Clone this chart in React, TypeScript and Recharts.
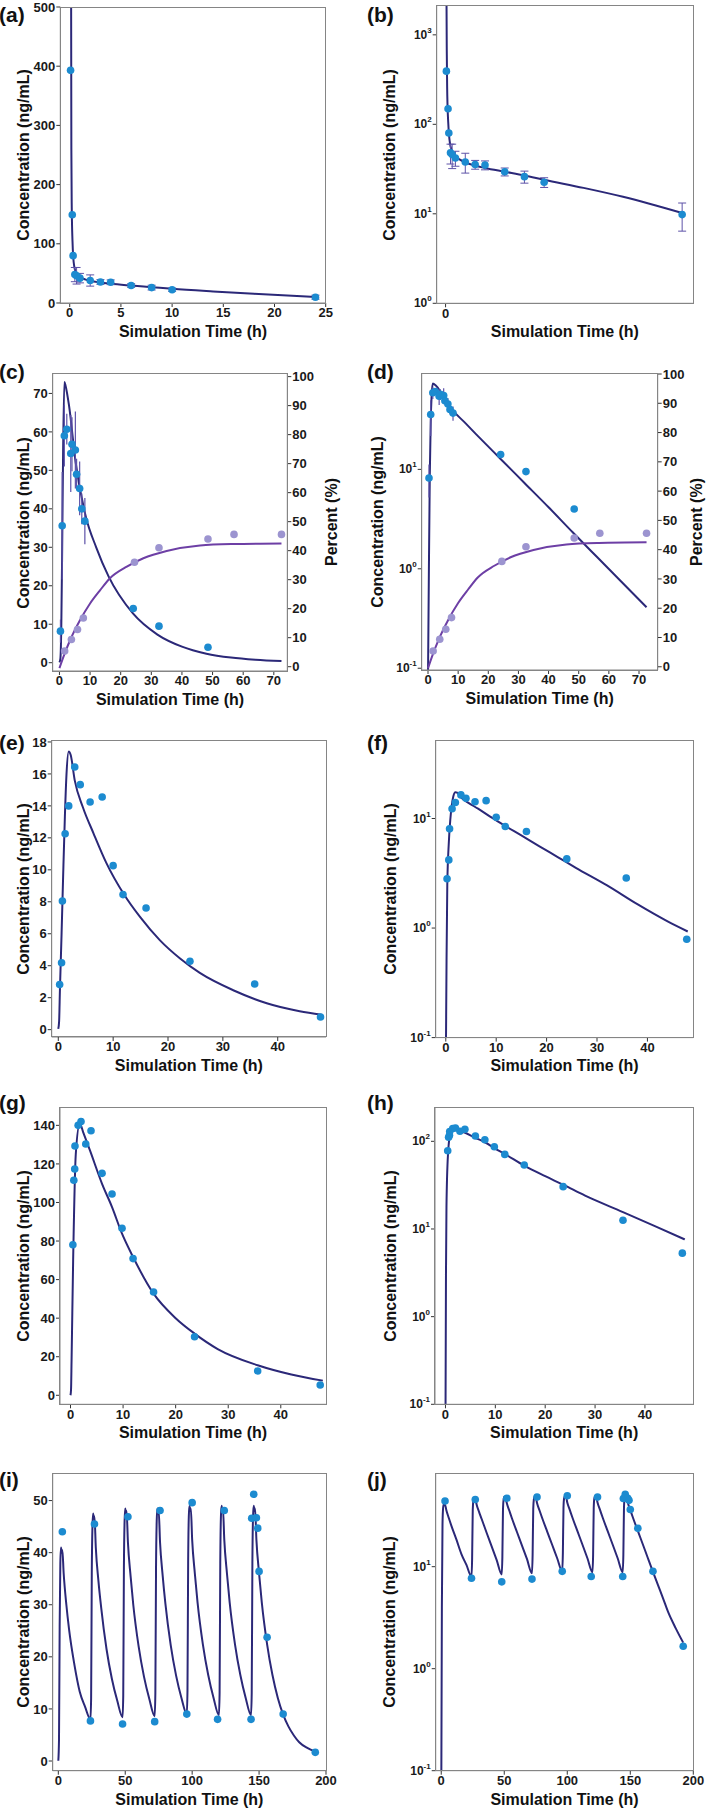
import React from 'react';
import { ComposedChart, Line, Scatter, XAxis, YAxis, ErrorBar } from 'recharts';

const FONT = '"Liberation Sans", Arial, Helvetica, sans-serif';
const NAVY = '#2b2878';
const BLUE = '#1c8bd0';
const LILAC = '#9c94d0';
const PURPLE = '#6d3fa5';
const ERR = '#5d52a8';
const FRAME = '#858585';

// (a)/(b) IV bolus, observed mean +/- SD and simulated profile
const ivObsTime = [0.083, 0.25, 0.33, 0.5, 0.67, 1, 2, 3, 4, 6, 8, 10, 24];
const ivObsConc = [393, 149, 80, 48, 46, 42, 38, 35.5, 35, 29.5, 26, 22.5, 9.8];
const ivObsSd = [0, 0, 0, 12, 14, 8, 9.5, 4, 4, 3, 4, 2.8, 3.4];
const ivSimTime = [0.08, 0.12, 0.16, 0.2, 0.27, 0.35, 0.45, 0.6, 0.8, 1, 1.5, 2, 3, 4, 6, 8, 10, 14, 18, 24];
const ivSimConc = [5000, 700, 260, 160, 105, 76, 61, 52, 47, 44, 40, 37.5, 34.5, 32.5, 29.5, 26.8, 24, 19.5, 15.5, 10.2];

// (c)/(d) oral dose with percent curve on right axis
const poObsTime = [0.33, 0.9, 1.6, 2.4, 3.7, 4.1, 5.2, 5.6, 6.6, 7.3, 8.3, 24.1, 32.5, 48.5];
const poObsConc = [8.2, 35.6, 59, 60.7, 54.4, 56.8, 55.3, 49, 45.3, 40, 36.8, 14.1, 9.5, 4.0];
const poObsSd = [3, 14, 8, 4, 10, 7, 10, 4, 7, 4, 6, 0, 0, 0];
const poSimTime = [0, 0.3, 0.6, 0.9, 1.2, 1.6, 2, 3.1, 5.3, 8.6, 12, 16, 24, 32, 40, 48, 56, 64, 72.5];
const poSimConc = [0.08, 1, 9, 30, 55, 73, 72, 67, 52, 38, 30, 22.5, 12.8, 7.3, 4.16, 2.33, 1.32, 0.75, 0.41];
const pctObsTime = [1.7, 3.9, 5.9, 7.8, 24.5, 32.5, 48.5, 57, 72.5];
const pctObs = [5.4, 9.4, 12.8, 16.8, 36, 41, 44, 45.6, 45.6];
const pctSimTime = [0, 1.3, 3.5, 6.7, 10, 13.3, 16.5, 22, 27.4, 35, 45.9, 56.7, 72.5];
const pctSim = [-0.5, 3.4, 9.2, 16, 21.8, 26.4, 30.5, 34.5, 37.4, 39.9, 41.8, 42.3, 42.5];

// (e)/(f)
const eObsTime = [0.25, 0.6, 0.75, 1.25, 1.9, 3, 4, 5.8, 8, 10, 11.8, 16, 24, 35.8, 47.8];
const eObsConc = [2.82, 4.19, 8.05, 12.26, 14.0, 16.43, 15.33, 14.24, 14.56, 10.26, 8.45, 7.61, 4.28, 2.86, 0.79];
const eSimTime = [0, 0.15, 0.3, 0.6, 0.9, 1.2, 1.5, 1.9, 2.25, 3, 4.5, 6.4, 8.8, 11.9, 14.9, 18.5, 22.2, 25.8, 32, 38, 44, 48];
const eSimConc = [0.05, 0.5, 2.5, 6, 9.8, 13.3, 16, 17.4, 17.2, 15.6, 13.9, 12.3, 10.4, 8.5, 7.05, 5.6, 4.45, 3.55, 2.45, 1.65, 1.15, 0.93];

// (g)/(h)
const gObsTime = [0.45, 0.63, 0.8, 0.85, 1.45, 2, 2.9, 3.9, 6, 7.9, 9.8, 11.9, 15.8, 23.6, 35.6, 47.5];
const gObsConc = [78.1, 111.5, 117.4, 129.3, 140, 142, 130.3, 137.2, 115.1, 104.4, 86.6, 70.9, 53.6, 30.4, 12.6, 5.3];
const gSimTime = [0, 0.1, 0.2, 0.5, 1, 1.77, 2.4, 3.7, 6, 7.9, 9.8, 11.9, 15.8, 20, 23.6, 28, 35.6, 42, 48];
const gSimConc = [0.05, 3, 18, 70, 125, 141, 136.5, 127, 109.7, 97.6, 83.8, 71.7, 52.7, 40, 32, 24, 15.6, 10.8, 7.6];

// (i)/(j) multiple dosing every 24 h
const mdObsTime = [3, 24, 27, 48, 52, 72, 76, 96, 100, 119, 124, 144, 144.5, 146, 148, 149, 150, 156, 168, 192];
const mdObsConc = [44.0, 7.7, 45.5, 7.1, 46.9, 7.55, 48.1, 9.0, 49.6, 8.0, 48.1, 8.0, 46.6, 51.2, 46.7, 44.7, 36.4, 23.75, 9.0, 1.66];
const mdSimTime = [
  0, 0.5, 1, 1.5, 2, 2.5, 3, 4, 6, 8, 12, 16, 20, 24,
  24.5, 25, 25.5, 26, 26.5, 27, 28, 30, 32, 36, 40, 44, 48,
  48.5, 49, 49.5, 50, 50.5, 51, 52, 54, 56, 60, 64, 68, 72,
  72.5, 73, 73.5, 74, 74.5, 75, 76, 78, 80, 84, 88, 92, 96,
  96.5, 97, 97.5, 98, 98.5, 99, 100, 102, 104, 108, 112, 116, 120,
  120.5, 121, 121.5, 122, 122.5, 123, 124, 126, 128, 132, 136, 140, 144,
  144.5, 145, 145.5, 146, 146.5, 147, 148, 150, 152, 156, 160, 164, 168, 172, 176, 180, 186, 192,
];
const mdSimConc = [
  0.05, 4, 26, 38, 41, 40, 40.5, 36, 30, 25.3, 18.5, 13.3, 10.4, 8.0,
  12, 36, 45, 47.5, 46.5, 47, 41, 34.5, 29.5, 21.5, 15.8, 11.6, 8.4,
  12.5, 37, 46, 48.5, 47.5, 48, 42, 35.5, 30, 22, 16.2, 11.9, 8.6,
  13, 37, 46, 48.5, 47.5, 48, 42, 35.5, 30.2, 22.2, 16.4, 12.1, 9.0,
  13.5, 38, 47, 49, 48, 48.5, 42.5, 36, 30.5, 22.4, 16.5, 12.1, 8.8,
  13, 38, 47, 49, 48, 48.5, 42.5, 36, 30.5, 22.4, 16.5, 12.1, 8.8,
  13, 38, 47, 49, 48, 48.5, 42.5, 36, 30.5, 22.4, 16.5, 12.1, 8.9, 6.6, 4.9, 3.6, 2.5, 1.8,
];

const rows = (t: number[], v: number[], sd?: number[]) =>
  t.map((x, i) => ({ t: x, c: v[i], sd: sd ? sd[i] : 0 }));

const tickStyle = { fontSize: 13, fontWeight: 700, fill: '#1a1a1a', fontFamily: FONT };

const LogTick = ({ x, y, payload }: any) => {
  const e = Math.round(Math.log10(payload.value));
  return (
    <text x={x} y={y} textAnchor="end" dominantBaseline="central" fontFamily={FONT} fontWeight={700} fontSize={12} fill="#1a1a1a">
      10<tspan dy={-5} fontSize={8}>{e}</tspan>
    </text>
  );
};

const dot = (fill: string) => (p: any) => <circle cx={p.cx} cy={p.cy} r={3.8} fill={fill} />;

type Box = { x0: number; y0: number; x1: number; y1: number };

function Panel(props: {
  col: number;
  box: Box;
  xDomain: number[];
  xTicks: number[];
  yDomain: number[];
  yTicks: number[];
  log?: boolean;
  right?: { domain: number[]; ticks: number[] };
  children: React.ReactNode;
}) {
  const { col, box, xDomain, xTicks, yDomain, yTicks, log, right, children } = props;
  const colX = col === 0 ? 0 : 354;
  const W = col === 0 ? 354 : 355;
  const top = box.y0 - 12;
  const H = box.y1 - box.y0 + 12 + 24;
  const yw = box.x0 - colX;
  const rw = colX + W - box.x1;
  return (
    <>
      <div style={{ position: 'absolute', left: colX, top, width: W, height: H }}>
        <ComposedChart width={W} height={H} margin={{ top: 12, right: right ? 0 : rw, bottom: 0, left: 0 }}>
          <XAxis
            type="number"
            dataKey="t"
            domain={xDomain}
            ticks={xTicks}
            interval={0}
            allowDataOverflow
            height={24}
            tick={tickStyle}
            tickSize={4}
            tickMargin={1}
            axisLine={{ stroke: FRAME }}
            tickLine={{ stroke: '#333' }}
          />
          <YAxis
            yAxisId="L"
            type="number"
            scale={log ? 'log' : 'linear'}
            domain={yDomain}
            ticks={yTicks}
            interval={0}
            allowDataOverflow
            width={yw}
            tick={log ? <LogTick /> : tickStyle}
            tickSize={4}
            tickMargin={1}
            axisLine={{ stroke: FRAME }}
            tickLine={{ stroke: '#333' }}
          />
          {right && (
            <YAxis
              yAxisId="R"
              orientation="right"
              type="number"
              domain={right.domain}
              ticks={right.ticks}
              interval={0}
              allowDataOverflow
              width={rw}
              tick={tickStyle}
              tickSize={4}
              tickMargin={1}
              axisLine={{ stroke: FRAME }}
              tickLine={{ stroke: '#333' }}
            />
          )}
          {children}
        </ComposedChart>
      </div>
      {/* plot frame */}
      <div
        style={{
          position: 'absolute',
          left: box.x0 - 0.65,
          top: box.y0 - 0.65,
          width: box.x1 - box.x0 + 1.3,
          height: box.y1 - box.y0 + 1.3,
          border: `1.3px solid ${FRAME}`,
          boxSizing: 'border-box',
          pointerEvents: 'none',
        }}
      />
    </>
  );
}

const Title = ({ x, y, text, rotate }: { x: number; y: number; text: string; rotate?: boolean }) => (
  <div
    style={{
      position: 'absolute',
      left: x,
      top: y,
      transform: `translate(-50%, -50%)${rotate ? ' rotate(-90deg)' : ''}`,
      whiteSpace: 'nowrap',
      fontFamily: FONT,
      fontWeight: 700,
      fontSize: 16,
      lineHeight: 1,
      color: '#111',
    }}
  >
    {text}
  </div>
);

const Letter = ({ x, y, text }: { x: number; y: number; text: string }) => (
  <div
    style={{
      position: 'absolute',
      left: x,
      top: y - 11,
      fontFamily: FONT,
      fontWeight: 700,
      fontSize: 21,
      lineHeight: '22px',
      color: '#111',
    }}
  >
    {text}
  </div>
);

const simLine = (data: any[], color = NAVY, axis = 'L') => (
  <Line
    key={'l' + axis + color}
    yAxisId={axis}
    data={data}
    dataKey="c"
    type="monotone"
    stroke={color}
    strokeWidth={2}
    dot={false}
    isAnimationActive={false}
  />
);

const obsDots = (data: any[], fill = BLUE, axis = 'L', err?: { width: number; sw: number }) => (
  <Scatter key={'s' + axis + fill} yAxisId={axis} data={data} dataKey="c" shape={dot(fill)} isAnimationActive={false}>
    {err && <ErrorBar dataKey="sd" direction="y" width={err.width} stroke={ERR} strokeWidth={err.sw} isAnimationActive={false} />}
  </Scatter>
);

const range = (a: number, b: number, s: number) => {
  const out: number[] = [];
  for (let v = a; v <= b + 1e-9; v += s) out.push(v);
  return out;
};

export default function App() {
  const ivSim = rows(ivSimTime, ivSimConc);
  const ivObs = rows(ivObsTime, ivObsConc, ivObsSd);
  const poSim = rows(poSimTime, poSimConc);
  const poObs = rows(poObsTime, poObsConc, poObsSd);
  const pSim = rows(pctSimTime, pctSim);
  const pObs = rows(pctObsTime, pctObs);
  const eSim = rows(eSimTime, eSimConc);
  const eObs = rows(eObsTime, eObsConc);
  const gSim = rows(gSimTime, gSimConc);
  const gObs = rows(gObsTime, gObsConc);
  const mdSim = rows(mdSimTime, mdSimConc);
  const mdObs = rows(mdObsTime, mdObsConc);

  const boxes: Record<string, Box> = {
    a: { x0: 60.3, y0: 7.3, x1: 325.7, y1: 303.3 },
    b: { x0: 436.7, y0: 6, x1: 693, y1: 303.3 },
    c: { x0: 52.7, y0: 374, x1: 287.3, y1: 671 },
    d: { x0: 421.7, y0: 374, x1: 657.7, y1: 670 },
    e: { x0: 51.7, y0: 740.7, x1: 326, y1: 1036.7 },
    f: { x0: 435.7, y0: 740.7, x1: 693.3, y1: 1037.3 },
    g: { x0: 60, y0: 1107.7, x1: 326, y1: 1404 },
    h: { x0: 435, y0: 1107.7, x1: 693.3, y1: 1404 },
    i: { x0: 52.7, y0: 1474, x1: 326, y1: 1770.7 },
    j: { x0: 435.7, y0: 1474, x1: 693.3, y1: 1770.7 },
  };

  const yTitleX: Record<string, number> = { a: 24, b: 390, c: 24, d: 378, e: 24, f: 391, g: 24, h: 391, i: 24, j: 390 };
  const letterY: Record<string, number> = { a: 15, b: 15, c: 372, d: 372, e: 743, f: 743, g: 1103, h: 1103, i: 1480, j: 1480 };

  return (
    <div style={{ position: 'absolute', left: 0, top: 0, width: 709, height: 1809, background: '#fff', overflow: 'hidden' }}>
      <Panel col={0} box={boxes.a} xDomain={[-0.92, 25]} xTicks={range(0, 25, 5)} yDomain={[0, 500]} yTicks={range(0, 500, 100)}>
        {[simLine(ivSim), obsDots(ivObs, BLUE, 'L', { width: 4, sw: 1 })]}
      </Panel>
      <Panel col={1} box={boxes.b} xDomain={[-0.9, 25.1]} xTicks={[0]} yDomain={[1, 2100]} yTicks={[1, 10, 100, 1000]} log>
        {[simLine(ivSim), obsDots(ivObs, BLUE, 'L', { width: 4, sw: 1 })]}
      </Panel>
      <Panel
        col={0}
        box={boxes.c}
        xDomain={[-2.2, 74.4]}
        xTicks={range(0, 70, 10)}
        yDomain={[-2.16, 75.05]}
        yTicks={range(0, 70, 10)}
        right={{ domain: [-1.48, 100.9], ticks: range(0, 100, 10) }}
      >
        {[
          simLine(poSim),
          simLine(pSim, PURPLE, 'R'),
          obsDots(poObs, BLUE, 'L', { width: 0, sw: 1.2 }),
          obsDots(pObs, LILAC, 'R'),
        ]}
      </Panel>
      <Panel
        col={1}
        box={boxes.d}
        xDomain={[-2.09, 76.2]}
        xTicks={range(0, 70, 10)}
        yDomain={[0.096, 91]}
        yTicks={[0.1, 1, 10]}
        log
        right={{ domain: [-1.1, 100], ticks: range(0, 100, 10) }}
      >
        {[
          simLine(poSim),
          simLine(pSim, PURPLE, 'R'),
          obsDots(poObs, BLUE, 'L', { width: 0, sw: 1.2 }),
          obsDots(pObs, LILAC, 'R'),
        ]}
      </Panel>
      <Panel col={0} box={boxes.e} xDomain={[-1.2, 48.8]} xTicks={range(0, 40, 10)} yDomain={[-0.46, 18.06]} yTicks={range(0, 18, 2)}>
        {[simLine(eSim), obsDots(eObs)]}
      </Panel>
      <Panel col={1} box={boxes.f} xDomain={[-2, 49.1]} xTicks={range(0, 40, 10)} yDomain={[0.1, 51]} yTicks={[0.1, 1, 10]} log>
        {[simLine(eSim), obsDots(eObs)]}
      </Panel>
      <Panel col={0} box={boxes.g} xDomain={[-2, 48.6]} xTicks={range(0, 40, 10)} yDomain={[-4.67, 149]} yTicks={range(0, 140, 20)}>
        {[simLine(gSim), obsDots(gObs)]}
      </Panel>
      <Panel col={1} box={boxes.h} xDomain={[-2.1, 49.7]} xTicks={range(0, 40, 10)} yDomain={[0.1, 240]} yTicks={[0.1, 1, 10, 100]} log>
        {[simLine(gSim), obsDots(gObs)]}
      </Panel>
      <Panel col={0} box={boxes.i} xDomain={[-4.2, 200]} xTicks={range(0, 200, 50)} yDomain={[-1.86, 55.1]} yTicks={range(0, 50, 10)}>
        {[simLine(mdSim), obsDots(mdObs)]}
      </Panel>
      <Panel col={1} box={boxes.j} xDomain={[-4.4, 200]} xTicks={range(0, 200, 50)} yDomain={[0.1, 81]} yTicks={[0.1, 1, 10]} log>
        {[simLine(mdSim), obsDots(mdObs)]}
      </Panel>

      {Object.keys(boxes).map((k) => {
        const b = boxes[k];
        const left = k.charCodeAt(0) % 2 === 1; // a, c, e, g, i
        return (
          <React.Fragment key={k}>
            <Letter x={left ? -1 : 367} y={letterY[k]} text={`(${k})`} />
            <Title x={(b.x0 + b.x1) / 2} y={b.y1 + 29} text="Simulation Time (h)" />
            <Title x={yTitleX[k]} y={(b.y0 + b.y1) / 2} text="Concentration (ng/mL)" rotate />
          </React.Fragment>
        );
      })}
      <Title x={331.7} y={522} text="Percent (%)" rotate />
      <Title x={697} y={522} text="Percent (%)" rotate />
    </div>
  );
}
